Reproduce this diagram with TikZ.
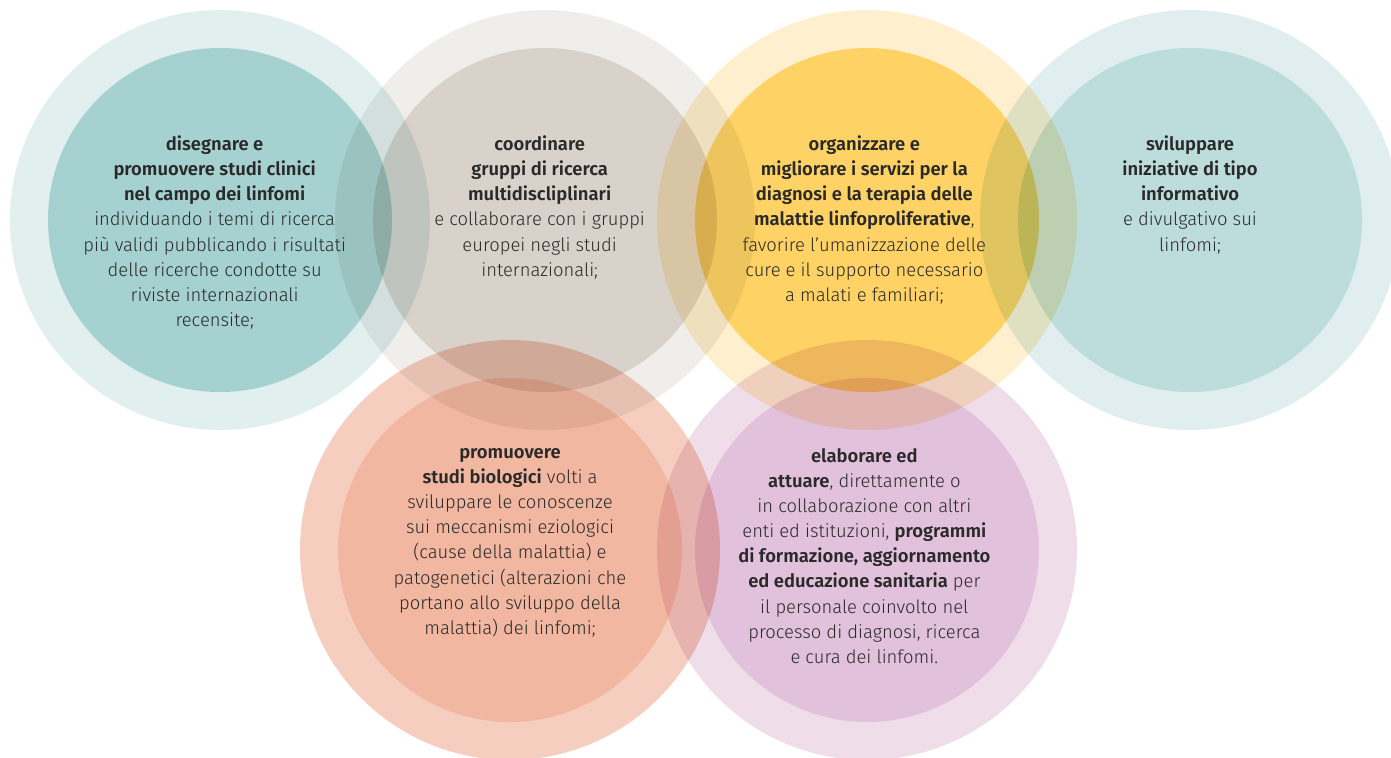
\documentclass[tikz,border=0pt]{standalone}
\usepackage{fontspec}
\setmainfont{Fira Sans}[UprightFont={Fira Sans Light}, BoldFont={Fira Sans SemiBold}]
\usepackage{xcolor}
\usetikzlibrary{positioning}

\definecolor{ring1}{HTML}{E1EFEF}
\definecolor{disc1}{HTML}{BCDFDE}
\definecolor{ring2}{HTML}{EFEEEB}
\definecolor{disc2}{HTML}{E8E1DD}
\definecolor{ring3}{HTML}{FEF0CE}
\definecolor{disc3}{HTML}{FFE07E}
\definecolor{ring4}{HTML}{E0EEEF}
\definecolor{disc4}{HTML}{D8ECEB}
\definecolor{ring5}{HTML}{F6CEBF}
\definecolor{disc5}{HTML}{FBE3D6}
\definecolor{ring6}{HTML}{EFDEEA}
\definecolor{disc6}{HTML}{F1DEF0}
\definecolor{textgray}{HTML}{2A2A2A}

\begin{document}
\begin{tikzpicture}[
    x=0.75pt, y=-0.75pt,
    ring/.style={circle, minimum size=315pt, inner sep=0pt},
    disc/.style={circle, minimum size=258pt, inner sep=0pt},
    txt/.style={align=center, inner sep=0pt, text=textgray, font=\fontsize{13.8}{18.8}\selectfont}
]
    \useasboundingbox (0,0) rectangle (1391,757);

    \begin{scope}[blend mode=multiply]
        % outer rings
        \node[ring, fill=ring1] (o1) at (220,220) {};
        \node[ring, fill=ring2] (o2) at (545,220) {};
        \node[ring, fill=ring3] (o3) at (867,220) {};
        \node[ring, fill=ring4] (o4) at (1190,220) {};
        \node[ring, fill=ring5] (o5) at (510,550) {};
        \node[ring, fill=ring6] (o6) at (867,550) {};
        % inner discs
        \node[disc, fill=disc1] (c1) at (220,220) {};
        \node[disc, fill=disc2] (c2) at (545,220) {};
        \node[disc, fill=disc3] (c3) at (867,220) {};
        \node[disc, fill=disc4] (c4) at (1190,220) {};
        \node[disc, fill=disc5] (c5) at (510,550) {};
        \node[disc, fill=disc6] (c6) at (867,550) {};
    \end{scope}

    \node[txt, below=66pt of c1.north, xshift=-4pt] (t1) {\textbf{disegnare e}\\
        \textbf{promuovere studi clinici}\\
        \textbf{nel campo dei linfomi}\\
        individuando i temi di ricerca\\
        più validi pubblicando i risultati\\
        delle ricerche condotte su\\
        riviste internazionali\\
        recensite;};
    \node[txt, below=66pt of c2.north, xshift=-4pt] (t2) {\textbf{coordinare}\\
        \textbf{gruppi di ricerca}\\
        \textbf{multidiscliplinari}\\
        e collaborare con i gruppi\\
        europei negli studi\\
        internazionali;};
    \node[txt, below=66pt of c3.north, xshift=-2pt] (t3) {\textbf{organizzare e}\\
        \textbf{migliorare i servizi per la}\\
        \textbf{diagnosi e la terapia delle}\\
        \textbf{malattie linfoproliferative},\\
        favorire l'umanizzazione delle\\
        cure e il supporto necessario\\
        a malati e familiari;};
    \node[txt, below=66pt of c4.north] (t4) {\textbf{sviluppare}\\
        \textbf{iniziative di tipo}\\
        \textbf{informativo}\\
        e divulgativo sui\\
        linfomi;};
    \node[txt, below=53pt of c5.north] (t5) {\textbf{promuovere}\\
        \textbf{studi biologici} volti a\\
        sviluppare le conoscenze\\
        sui meccanismi eziologici\\
        (cause della malattia) e\\
        patogenetici (alterazioni che\\
        portano allo sviluppo della\\
        malattia) dei linfomi;};
    \node[txt, below=53pt of c6.north, xshift=-2pt] (t6) {\textbf{elaborare ed}\\
        \textbf{attuare}, direttamente o\\
        in collaborazione con altri\\
        enti ed istituzioni, \textbf{programmi}\\
        \textbf{di formazione, aggiornamento}\\
        \textbf{ed educazione sanitaria} per\\
        il personale coinvolto nel\\
        processo di diagnosi, ricerca\\
        e cura dei linfomi.};
\end{tikzpicture}
\end{document}
